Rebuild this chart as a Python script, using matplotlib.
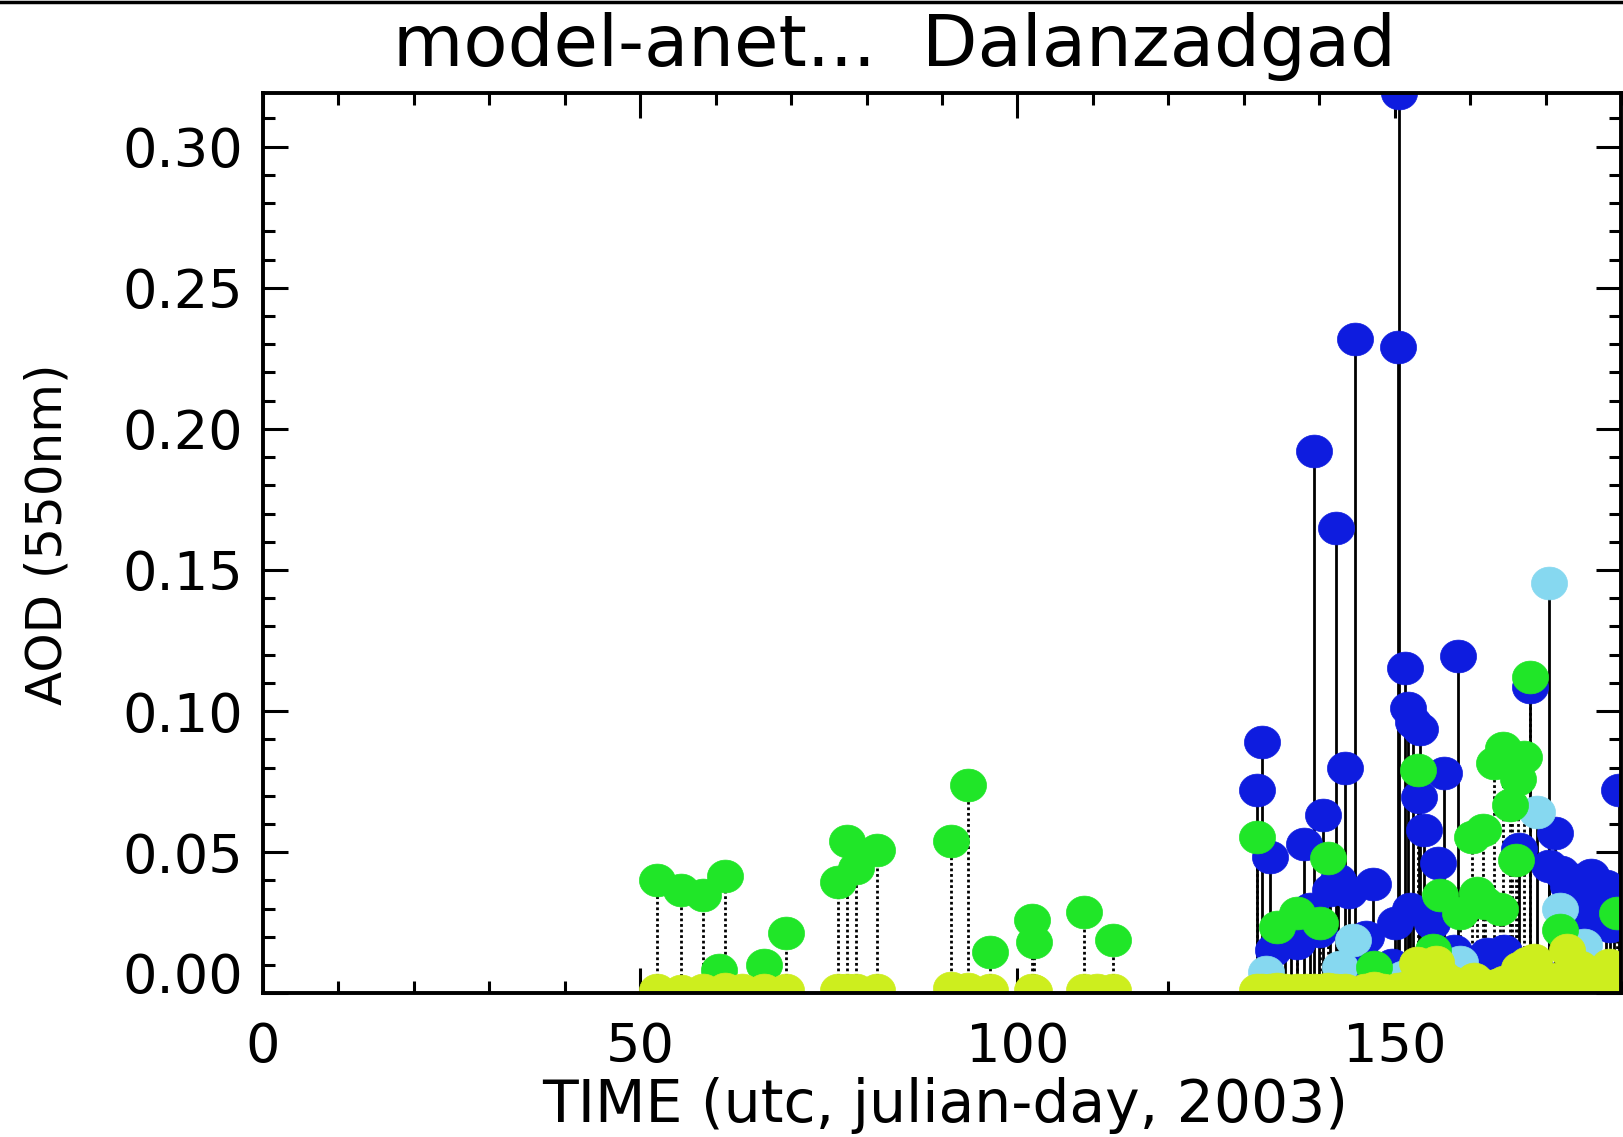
import numpy as np
import matplotlib
matplotlib.use("Agg")
import matplotlib.pyplot as plt
from matplotlib.path import Path
from matplotlib.lines import Line2D

# ---------------- data ----------------
blue_day = [131.7, 132.4, 133.5, 133.9, 135.5, 137.0, 138.0, 139.3, 140.5, 141.4,
            142.2, 142.5, 143.4, 144.8, 147.1, 150.4, 150.6, 151.3, 151.8, 152.4,
            153.4, 153.2, 153.9, 154.9, 155.8, 156.5, 158.4, 160.5, 161.7, 163.4,
            164.5, 165.5, 166.5, 167.9, 169.1, 170.5, 171.3, 172.0, 173.0, 174.0,
            175.0, 176.0, 177.0, 178.0, 179.0, 179.7, 174.5, 176.5, 178.5,
            136.2, 138.8, 140.0, 143.9, 145.6, 146.2, 149.6, 150.1, 152.0, 157.2,
            157.9, 162.2, 165.0]
blue_val = [0.0721, 0.0892, 0.0484, 0.0154, 0.019, 0.0177, 0.053, 0.192, 0.0632, 0.0366,
            0.165, 0.0402, 0.080, 0.232, 0.0387, 0.229, 0.319, 0.1152, 0.101, 0.096,
            0.0935, 0.0697, 0.0579, 0.025, 0.046, 0.078, 0.1194, 0.010, 0.0118, 0.0106,
            0.015, 0.008, 0.0513, 0.1087, 0.0071, 0.045, 0.0567, 0.043, 0.038, 0.040,
            0.035, 0.042, 0.032, 0.038, 0.035, 0.0721, 0.028, 0.025, 0.024,
            0.020, 0.030, 0.022, 0.036, 0.012, 0.020, 0.010, 0.025, 0.030, 0.012,
            0.015, 0.014, 0.012]

ltblue_day = [133.0, 142.8, 144.5, 150.7, 151.1, 158.6, 168.8, 170.4, 171.9, 175.1]
ltblue_val = [0.0075, 0.0094, 0.0189, 0.0045, 0.0058, 0.0110, 0.0644, 0.1454, 0.0300, 0.0170]

green_day = [52.2, 55.4, 58.3, 61.3, 60.4, 66.4, 69.3, 76.2, 77.4, 78.6,
             81.4, 91.2, 93.4, 96.4, 101.9, 102.2, 108.8, 112.6,
             131.7, 134.4, 137.0, 140.1, 141.2, 147.3, 153.1, 155.1, 156.0, 158.6,
             160.3, 160.9, 161.7, 162.0, 163.1, 164.0, 165.3, 165.5, 166.1, 167.1,
             167.9, 171.9, 173.7, 179.5, 164.3, 166.4]
green_val = [0.0402, 0.0366, 0.0349, 0.0414, 0.0083, 0.0100, 0.0215, 0.0396, 0.0538, 0.0443,
             0.0508, 0.0538, 0.0739, 0.0148, 0.0260, 0.0183, 0.0289, 0.0189,
             0.0555, 0.0236, 0.0284, 0.0248, 0.0479, 0.0094, 0.0792, 0.0154, 0.0350, 0.0284,
             0.0555, 0.0355, 0.0579, 0.0319, 0.0816, 0.0300, 0.0668, 0.0827, 0.0473, 0.0839,
             0.1120, 0.0224, 0.0070, 0.0285, 0.0870, 0.0760]

ygreen_day = [52.2, 55.4, 58.3, 61.3, 63.5, 66.4, 69.3, 76.2, 77.4, 78.6,
              81.4, 91.2, 93.4, 96.4, 101.9, 102.2, 108.8, 110.5, 112.6,
              131.7, 132.4, 133.5, 134.4, 135.5, 137.0, 138.3, 139.3, 140.3, 141.2,
              142.2, 143.4, 146.0, 147.2, 148.5, 150.5, 151.4, 152.9, 153.6, 154.5,
              155.5, 156.3, 157.5, 158.5, 159.5, 160.5, 161.7, 162.7, 163.5, 164.5,
              165.5, 166.5, 167.5, 168.4, 169.5, 170.4, 171.5, 172.8, 173.7, 174.5,
              175.5, 176.5, 177.5, 178.4, 179.4]
ygreen_val = [0.0010, 0.0008, 0.0012, 0.0015, 0.0010, 0.0012, 0.0010, 0.0010, 0.0012, 0.0010,
              0.0012, 0.0020, 0.0015, 0.0010, 0.0010, 0.0008, 0.0010, 0.0010, 0.0012,
              0.0010, 0.0012, 0.0010, 0.0015, 0.0010, 0.0012, 0.0010, 0.0012, 0.0010, 0.0015,
              0.0010, 0.0012, 0.0010, 0.0020, 0.0010, 0.0015, 0.0020, 0.0106, 0.0040, 0.0030,
              0.0110, 0.0060, 0.0040, 0.0030, 0.0020, 0.0050, 0.0030, 0.0020, 0.0030, 0.0040,
              0.0030, 0.0090, 0.0107, 0.0118, 0.0040, 0.0030, 0.0050, 0.0154, 0.0050, 0.0094,
              0.0060, 0.0030, 0.0050, 0.0100, 0.0040]

x_ticks = [0, 50, 100, 150]
x_ticklabels = ["0", "50", "100", "150"]
y_ticks = [0.00, 0.05, 0.10, 0.15, 0.20, 0.25, 0.30]
y_ticklabels = ["0.00", "0.05", "0.10", "0.15", "0.20", "0.25", "0.30"]

title = "model-anet...  Dalanzadgad"
xlabel = "TIME (utc, julian-day, 2003)"
ylabel = "AOD (550nm)"

# ---------------- styling ----------------
C_BLUE = "#0E1CDF"
C_LTBLUE = "#86D8F0"
C_GREEN = "#20E628"
C_YGREEN = "#CDEE1E"

plt.rcParams["font.family"] = ["DejaVu Sans"]

fig = plt.figure(figsize=(16.24, 11.37), dpi=100)
ax = fig.add_axes([0.1619, 0.1264, 0.9982 - 0.1619, 0.9182 - 0.1264])

t = np.linspace(0, 2 * np.pi, 60)
ell = Path(np.column_stack([1.1 * np.cos(t), np.sin(t)]))
MS = 26

# stems
ax.vlines(blue_day, 0, blue_val, colors="black", lw=2.0, zorder=1)
ax.vlines(ltblue_day, 0, ltblue_val, colors="black", lw=2.0, zorder=1)
ax.vlines(green_day, 0, green_val, colors="black", lw=2.0,
          linestyles=[(0, (1.0, 1.0))], zorder=1)

# markers
for d, v, c in [(blue_day, blue_val, C_BLUE),
                (ltblue_day, ltblue_val, C_LTBLUE),
                (green_day, green_val, C_GREEN),
                (ygreen_day, ygreen_val, C_YGREEN)]:
    ax.plot(d, v, ls="none", marker=ell, ms=MS, mfc=c, mec=c, mew=0.5, zorder=2)

ax.set_xlim(0, 180)
ax.set_ylim(0, max(blue_val))

ax.set_xticks(x_ticks)
ax.set_xticklabels(x_ticklabels)
ax.set_xticks(np.arange(0, 181, 10), minor=True)
ax.set_yticks(y_ticks)
ax.set_yticklabels(y_ticklabels)
ax.set_yticks(np.arange(0, 0.32, 0.01), minor=True)

ax.tick_params(which="both", direction="in", top=True, right=True,
               width=2.2, colors="black")
ax.tick_params(which="major", length=18)
ax.tick_params(which="minor", length=8.5)
ax.tick_params(axis="x", which="major", labelsize=39, pad=20)
ax.tick_params(axis="y", which="major", labelsize=39, pad=14)

for lab in ax.get_yticklabels():
    if lab.get_text() == "0.00":
        lab.set_verticalalignment("baseline")

for s in ax.spines.values():
    s.set_linewidth(2.8)
    s.set_zorder(5)

fig.text(0.5505, 0.942, title, ha="center", va="baseline", fontsize=52)
fig.text(0.582, 0.013, xlabel, ha="center", va="baseline", fontsize=42)
fig.text(0.029, 0.53, ylabel, ha="center", va="center", rotation=90, fontsize=36)

# black line along the top edge of the picture
fig.add_artist(Line2D([0, 1], [0.9985, 0.9985], transform=fig.transFigure,
                      color="black", lw=2.5))

fig.savefig("out.png", dpi=100)
